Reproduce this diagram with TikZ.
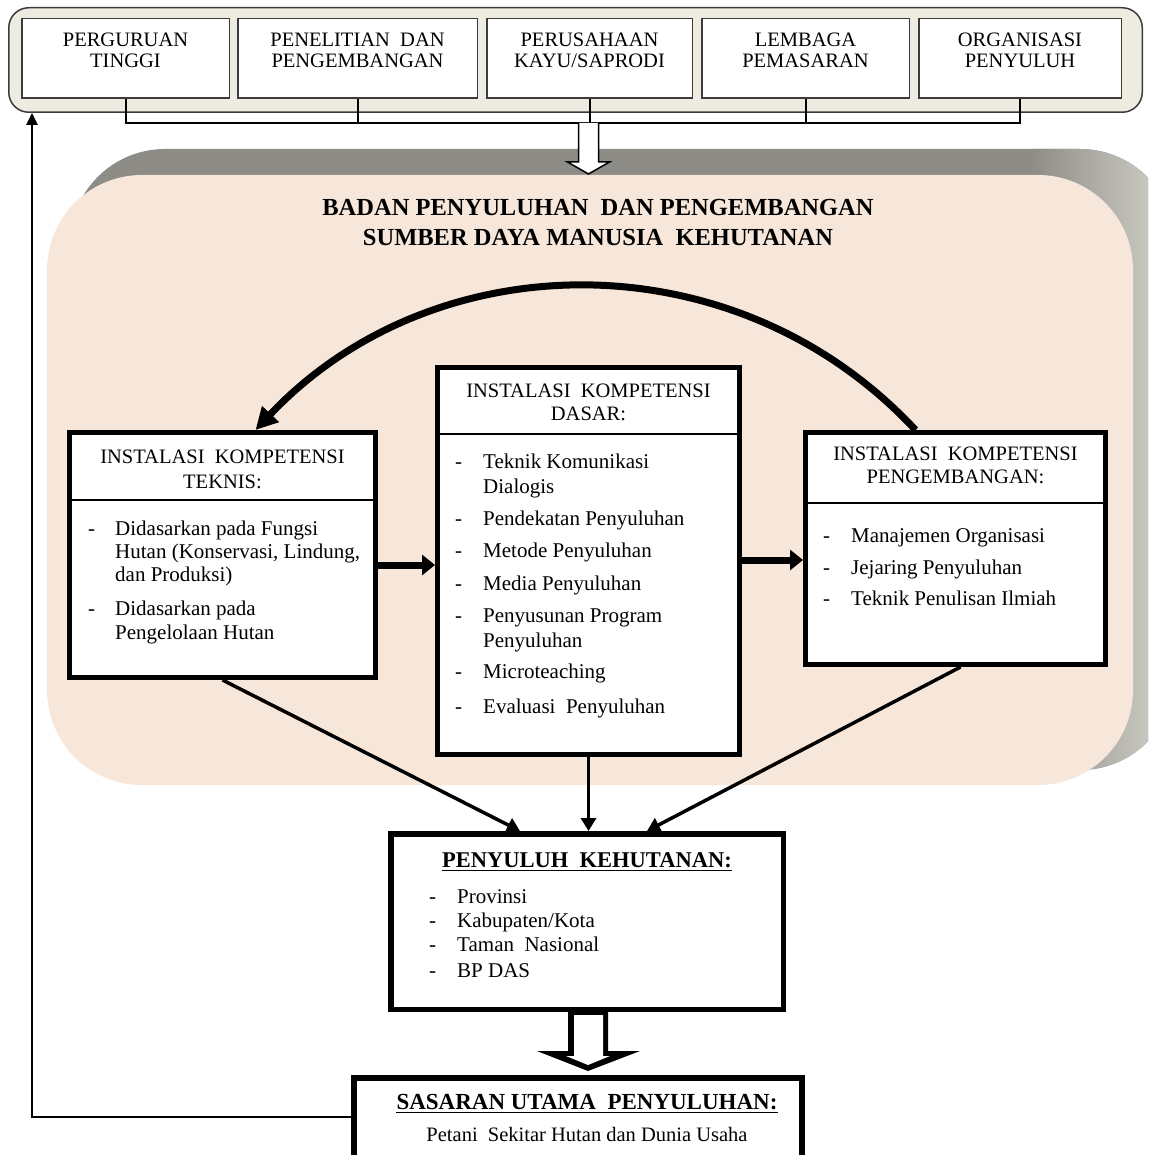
\documentclass[tikz,border=0pt]{standalone}
\usepackage{fontspec}
\setmainfont{Liberation Serif}
\usetikzlibrary{arrows.meta,calc}
\definecolor{topfill}{RGB}{238,235,225}
\definecolor{topdraw}{RGB}{60,60,60}
\definecolor{beige}{RGB}{246,231,218}
\definecolor{graydark}{RGB}{141,140,135}
\definecolor{graylight}{RGB}{200,200,192}
\begin{document}
\begin{tikzpicture}[x=1pt,y=-1pt,
  topbox/.style={draw=topdraw,fill=topfill,line width=1.5pt,rounded corners=20pt,inner sep=0pt},
  smallbox/.style={draw=topdraw,fill=white,line width=1.5pt,inner sep=0pt,minimum height=79.5pt},
  toptxt/.style={anchor=base,inner sep=0pt,font=\fontsize{20.5}{24}\selectfont},
  mbox/.style={draw=black,fill=white,line width=5pt,inner sep=0pt},
  divline/.style={line width=2.5pt},
  hdr/.style={anchor=base,inner sep=0pt,font=\fontsize{20.5}{24}\selectfont},
  itm/.style={anchor=base west,inner sep=0pt,font=\fontsize{21}{24}\selectfont},
  bigttl/.style={anchor=base,inner sep=0pt,font=\bfseries\fontsize{24.5}{28}\selectfont},
  bttl/.style={anchor=base,inner sep=0pt,font=\bfseries\fontsize{22.5}{26}\selectfont},
  brkline/.style={line width=2pt},
  harrow/.style={line width=7pt,-{Triangle[length=13pt,width=20pt]}},
  darrow/.style={line width=3.5pt,-{Triangle[length=13pt,width=15pt]}},
  arcarrow/.style={line width=7pt,-{Triangle[length=22pt,width=22pt]}},
  fbarrow/.style={line width=2.5pt,-{Triangle[length=12pt,width=11pt]}},
  holarrow/.style={draw=black,fill=white,line width=1.5pt}
]
\useasboundingbox (0,0) rectangle (1148,1155);
\clip (0,0) rectangle (1148,1155);

% ---------- background panel ----------
\fill[graydark,rounded corners=95pt] (70,149) rectangle (1175,770);
\begin{scope}
  \clip[rounded corners=95pt] (70,149) rectangle (1175,770);
  \shade[left color=graydark,right color=graylight] (1030,140) rectangle (1150,780);
  \fill[graylight] (1150,140) rectangle (1180,780);
\end{scope}
\fill[beige,rounded corners=95pt] (47,175) rectangle (1133,785);

% ---------- top container ----------
\node[topbox,minimum width=1133.5pt,minimum height=104.5pt] (top) at (575.5,60) {};
\node[smallbox,minimum width=207.5pt] (b1) at (125.5,58.5) {};
\node[smallbox,minimum width=239.5pt] (b2) at (357.5,58.5) {};
\node[smallbox,minimum width=205.5pt] (b3) at (589.5,58.5) {};
\node[smallbox,minimum width=207.5pt] (b4) at (805.5,58.5) {};
\node[smallbox,minimum width=202.5pt] (b5) at (1020,58.5) {};
\node[toptxt] (b1a) at (125.5,47) {PERGURUAN};
\node[toptxt] (b1b) at (125.5,68) {TINGGI};
\node[toptxt] (b2a) at (357.5,47) {PENELITIAN~~DAN};
\node[toptxt] (b2b) at (357.5,68) {PENGEMBANGAN};
\node[toptxt] (b3a) at (589.5,47) {PERUSAHAAN};
\node[toptxt] (b3b) at (589.5,68) {KAYU/SAPRODI};
\node[toptxt] (b4a) at (805.5,47) {LEMBAGA};
\node[toptxt] (b4b) at (805.5,68) {PEMASARAN};
\node[toptxt] (b5a) at (1020,47) {ORGANISASI};
\node[toptxt] (b5b) at (1020,68) {PENYULUH};

% bracket
\coordinate (brk) at (0,123);
\draw[brkline] (b1.south) -- (b1.south |- brk) -- (b5.south |- brk) -- (b5.south);
\foreach \b in {b2,b3,b4} \draw[brkline] (\b.south) -- (\b.south |- brk);
\coordinate (ha) at (b3.south |- brk);
\draw[holarrow] ($(ha)+(-11,0)$) -- ($(ha)+(-11,39)$) -- ($(ha)+(-22,39)$) -- ($(ha)+(-1,51)$)
   -- ($(ha)+(20,39)$) -- ($(ha)+(9,39)$) -- ($(ha)+(9,0)$);

% ---------- title ----------
\node[bigttl] (ttl1) at (598,216) {BADAN PENYULUHAN~~DAN PENGEMBANGAN};
\node[bigttl] (ttl2) at (598,246) {SUMBER DAYA MANUSIA~~KEHUTANAN};

% ---------- three boxes ----------
\node[mbox,minimum width=306pt,minimum height=245pt] (teknis) at (222.5,555) {};
\node[mbox,minimum width=302pt,minimum height=387pt] (dasar) at (588.5,561) {};
\node[mbox,minimum width=300pt,minimum height=232pt] (peng) at (955.5,548.5) {};
\coordinate (dv1) at (0,500);
\coordinate (dv2) at (0,434);
\coordinate (dv3) at (0,503);
\draw[divline] (teknis.west |- dv1) -- (teknis.east |- dv1);
\draw[divline] (dasar.west |- dv2) -- (dasar.east |- dv2);
\draw[divline] (peng.west |- dv3) -- (peng.east |- dv3);

% teknis text
\node[hdr] (tk1) at (222.5,463) {INSTALASI~~KOMPETENSI};
\node[hdr] (tk2) at (222.5,488) {TEKNIS:};
\node[itm] (tkd1) at (88,535) {-};
\node[itm] (tki1) at (115,535) {Didasarkan pada Fungsi};
\node[itm] (tki2) at (115,558) {Hutan (Konservasi, Lindung,};
\node[itm] (tki3) at (115,581) {dan Produksi)};
\node[itm] (tkd2) at (88,615) {-};
\node[itm] (tki4) at (115,615) {Didasarkan pada};
\node[itm] (tki5) at (115,639) {Pengelolaan Hutan};

% dasar text
\node[hdr] (ds1) at (588.5,397) {INSTALASI~~KOMPETENSI};
\node[hdr] (ds2) at (588.5,420) {DASAR:};
\node[itm] (dsd1) at (455,468) {-};
\node[itm] (dsi1) at (483,468) {Teknik Komunikasi};
\node[itm] (dsi1b) at (483,493) {Dialogis};
\node[itm] (dsd2) at (455,525) {-};
\node[itm] (dsi2) at (483,525) {Pendekatan Penyuluhan};
\node[itm] (dsd3) at (455,557) {-};
\node[itm] (dsi3) at (483,557) {Metode Penyuluhan};
\node[itm] (dsd4) at (455,590) {-};
\node[itm] (dsi4) at (483,590) {Media Penyuluhan};
\node[itm] (dsd5) at (455,622) {-};
\node[itm] (dsi5) at (483,622) {Penyusunan Program};
\node[itm] (dsi5b) at (483,647) {Penyuluhan};
\node[itm] (dsd6) at (455,678) {-};
\node[itm] (dsi6) at (483,678) {Microteaching};
\node[itm] (dsd7) at (455,713) {-};
\node[itm] (dsi7) at (483,713) {Evaluasi~~Penyuluhan};

% peng text
\node[hdr] (pg1) at (955.5,460) {INSTALASI~~KOMPETENSI};
\node[hdr] (pg2) at (955.5,483) {PENGEMBANGAN:};
\node[itm] (pgd1) at (823,542) {-};
\node[itm] (pgi1) at (851,542) {Manajemen Organisasi};
\node[itm] (pgd2) at (823,574) {-};
\node[itm] (pgi2) at (851,574) {Jejaring Penyuluhan};
\node[itm] (pgd3) at (823,605) {-};
\node[itm] (pgi3) at (851,605) {Teknik Penulisan Ilmiah};

% arrows between boxes
\coordinate (h1) at (0,565);
\coordinate (h2) at (0,560);
\draw[harrow] (teknis.east |- h1) -- (dasar.west |- h1);
\draw[harrow] (dasar.east |- h2) -- (peng.west |- h2);
\draw[arcarrow] ([xshift=-40pt]peng.north) .. controls (736,237) and (434,241) .. ([xshift=33pt]teknis.north);

% ---------- penyuluh box ----------
\node[mbox,line width=5.5pt,minimum width=392.5pt,minimum height=175.5pt] (penyu) at (587,921.5) {};
\node[bttl] (pyt) at (587,867) {PENYULUH~~KEHUTANAN:};
\draw[line width=1.6pt] ([yshift=-3.5pt]pyt.base west) -- ([yshift=-3.5pt]pyt.base east);
\node[itm] (pyd1) at (429,903) {-};
\node[itm] (pyi1) at (457,903) {Provinsi};
\node[itm] (pyd2) at (429,927) {-};
\node[itm] (pyi2) at (457,927) {Kabupaten/Kota};
\node[itm] (pyd3) at (429,951) {-};
\node[itm] (pyi3) at (457,951) {Taman~~Nasional};
\node[itm] (pyd4) at (429,977) {-};
\node[itm] (pyi4) at (457,977) {BP DAS};

\draw[darrow] (teknis.south) -- ([xshift=-67pt]penyu.north);
\draw[darrow] (dasar.south) -- (dasar.south |- penyu.north);
\draw[darrow] ([xshift=5pt]peng.south) -- ([xshift=60pt]penyu.north);

% hollow arrow to sasaran
\coordinate (hb) at (penyu.south);
\fill[black] ($(hb)+(-19,-2)$) -- ($(hb)+(-19,39)$) -- ($(hb)+(-50,39)$) -- ($(hb)+(1,59)$)
   -- ($(hb)+(53,39)$) -- ($(hb)+(21,39)$) -- ($(hb)+(21,-2)$) -- cycle;
\fill[white] ($(hb)+(-13,3)$) -- ($(hb)+(-13,44)$) -- ($(hb)+(-21,44)$) -- ($(hb)+(1,53)$)
   -- ($(hb)+(23,44)$) -- ($(hb)+(16,44)$) -- ($(hb)+(16,3)$) -- cycle;

% ---------- sasaran box ----------
\node[mbox,line width=6pt,minimum width=448pt,minimum height=210pt,anchor=north west] (sas) at (351,1075) {};
\node[bttl,font=\bfseries\fontsize{23}{26}\selectfont] (sst) at (587,1109) {SASARAN UTAMA~~PENYULUHAN:};
\draw[line width=1.6pt] ([yshift=-3.5pt]sst.base west) -- ([yshift=-3.5pt]sst.base east);
\node[hdr] (ssi) at (587,1141) {Petani~~Sekitar Hutan dan Dunia Usaha};

% feedback
\coordinate (fb) at (32,1117);
\draw[fbarrow] (sas.west |- fb) -- (fb) -- (fb |- top.south);
\end{tikzpicture}
\end{document}
